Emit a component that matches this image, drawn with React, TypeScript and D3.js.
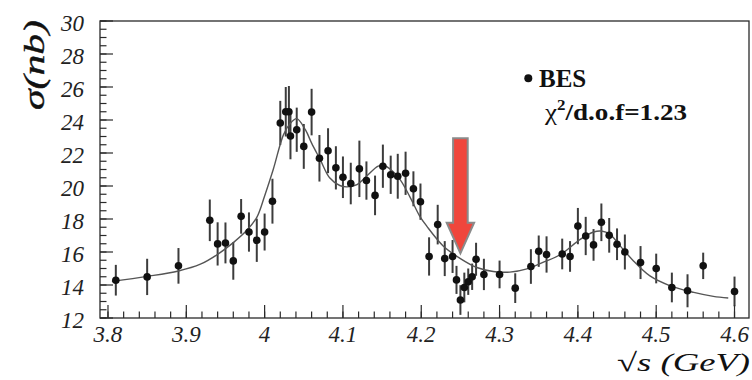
import React from "react";
import * as d3 from "d3";

// Measured cross section: centre-of-mass energy (GeV), sigma (nb), stat. error (nb)
const energy = [
  3.81, 3.85, 3.89, 3.93, 3.94, 3.95, 3.96, 3.97, 3.98, 3.99,
  4.0, 4.01, 4.02, 4.027, 4.031, 4.033, 4.041, 4.05, 4.06, 4.07,
  4.081, 4.091, 4.1, 4.11, 4.121, 4.13, 4.141, 4.151, 4.161, 4.17,
  4.18, 4.19, 4.199, 4.21, 4.221, 4.23, 4.24, 4.245, 4.25, 4.255,
  4.26, 4.265, 4.27, 4.28, 4.3, 4.32, 4.34, 4.35, 4.36, 4.38,
  4.39, 4.4, 4.41, 4.42, 4.43, 4.44, 4.45, 4.46, 4.48, 4.5,
  4.52, 4.54, 4.56, 4.6,
];
const sigma = [
  14.29, 14.49, 15.16, 17.92, 16.49, 16.55, 15.46, 18.16, 17.21, 16.71,
  17.21, 19.08, 23.82, 24.5, 24.5, 23.03, 23.41, 22.4, 24.48, 21.68,
  22.14, 21.1, 20.53, 20.15, 21.04, 20.33, 19.43, 21.2, 20.68, 20.59,
  20.77, 19.83, 19.05, 15.73, 17.66, 15.6, 15.73, 14.31, 13.09, 13.85,
  14.2, 14.5, 15.56, 14.64, 14.64, 13.81, 15.12, 16.05, 15.85, 15.88,
  15.73, 17.57, 16.97, 16.43, 17.8, 17.01, 16.47, 16.0, 15.36, 15.0,
  13.85, 13.65, 15.16, 13.61,
];
const sigmaErr = [
  0.93, 1.1, 1.08, 1.26, 1.31, 1.24, 1.14, 1.05, 1.19, 1.31,
  1.12, 1.36, 1.34, 1.5, 1.56, 1.41, 1.34, 1.36, 1.41, 1.41,
  1.36, 1.31, 1.26, 1.26, 1.71, 1.16, 1.2, 1.31, 1.16, 1.36,
  1.31, 1.06, 1.1, 1.16, 1.2, 1.06, 1.0, 0.85, 0.9, 0.9,
  0.8, 0.8, 1.0, 0.95, 0.84, 0.9, 1.05, 0.95, 1.1, 0.93,
  0.93, 1.1, 1.16, 0.96, 1.14, 1.05, 0.96, 1.06, 1.0, 0.9,
  0.9, 1.0, 0.8, 0.9,
];

// Fit curve sampled along the energy range
const fitEnergy = [
  3.805, 3.85, 3.89, 3.918, 3.94, 3.96, 3.977, 3.99, 4.0, 4.011,
  4.024, 4.032, 4.041, 4.052, 4.06, 4.071, 4.083, 4.096, 4.105, 4.118,
  4.13, 4.145, 4.152, 4.16, 4.173, 4.186, 4.198, 4.207, 4.228, 4.25,
  4.271, 4.292, 4.313, 4.335, 4.356, 4.378, 4.403, 4.42, 4.43, 4.441,
  4.454, 4.471, 4.492, 4.518, 4.548, 4.573, 4.592,
];
const fitSigma = [
  14.22, 14.52, 14.85, 15.26, 15.86, 16.57, 17.3, 18.1, 19.4, 21.0,
  23.1, 23.75, 24.08, 23.41, 22.6, 21.6, 20.5, 20.03, 19.95, 20.09,
  20.59, 21.2, 21.24, 21.04, 20.39, 19.3, 18.18, 17.57, 16.37, 15.6,
  15.06, 14.82, 14.78, 14.98, 15.38, 15.85, 16.77, 17.21, 17.27, 17.07,
  16.37, 15.46, 14.55, 13.95, 13.55, 13.31, 13.21,
];

// Axis ticks
const xTickValues = [3.8, 3.9, 4.0, 4.1, 4.2, 4.3, 4.4, 4.5, 4.6];
const xTickLabels = ["3.8", "3.9", "4", "4.1", "4.2", "4.3", "4.4", "4.5", "4.6"];
const yTickValues = [12, 14, 16, 18, 20, 22, 24, 26, 28, 30];
const yTickLabels = ["12", "14", "16", "18", "20", "22", "24", "26", "28", "30"];

// Marked energy and arrow extent (nb)
const arrowEnergy = 4.25;
const arrowFrom = 22.9;
const arrowTo = 15.92;

const W = 752;
const H = 380;
const left = 100;
const right = 749;
const top = 21;
const bottom = 318;

export default function App() {
  const x = d3.scaleLinear().domain([3.7898, 4.6185]).range([left, right]);
  const y = d3.scaleLinear().domain([12, 30]).range([bottom, top]);

  const xMinor = d3.range(0, 41).map((i) => 3.8 + i * 0.02).filter((v) => x(v) <= right);
  const yMinor = d3.range(0, 37).map((i) => 12 + i * 0.5);

  const fitLine = d3
    .line<number>()
    .x((_, i) => x(fitEnergy[i]))
    .y((d) => y(d))
    .curve(d3.curveCatmullRom.alpha(0.5));

  const serif = "Liberation Serif";
  const axisColor = "#2a2a2a";

  // arrow geometry
  const ax = x(arrowEnergy);
  const aTop = y(arrowFrom);
  const aTip = y(arrowTo);
  const shaftHalf = 7.3;
  const headHalf = 13.7;
  const headLen = 30.6;
  const arrowPts = [
    [ax - shaftHalf, aTop],
    [ax + shaftHalf, aTop],
    [ax + shaftHalf, aTip - headLen],
    [ax + headHalf, aTip - headLen],
    [ax, aTip],
    [ax - headHalf, aTip - headLen],
    [ax - shaftHalf, aTip - headLen],
  ]
    .map((p) => p.join(","))
    .join(" ");

  return (
    <svg
      width={W}
      height={H}
      style={{ position: "absolute", left: 0, top: 0, background: "#fff" }}
    >
      {/* error bars */}
      <g stroke="#3c3c3c" strokeWidth={2}>
        {energy.map((e, i) => (
          <line
            key={"e" + i}
            x1={x(e)}
            x2={x(e)}
            y1={y(sigma[i] - sigmaErr[i])}
            y2={y(sigma[i] + sigmaErr[i])}
          />
        ))}
      </g>

      {/* fit curve */}
      <path d={fitLine(fitSigma) || ""} fill="none" stroke="#555" strokeWidth={1.4} />

      {/* data points */}
      <g fill="#111">
        {energy.map((e, i) => (
          <circle key={"p" + i} cx={x(e)} cy={y(sigma[i])} r={3.8} />
        ))}
      </g>

      {/* frame */}
      <rect
        x={left}
        y={top}
        width={right - left}
        height={bottom - top}
        fill="none"
        stroke={axisColor}
        strokeWidth={1.3}
      />

      {/* x ticks */}
      <g stroke={axisColor} strokeWidth={1.2}>
        {xMinor.map((v, i) => (
          <line key={"xm" + i} x1={x(v)} x2={x(v)} y1={bottom} y2={bottom - 6.5} />
        ))}
        {xTickValues.map((v, i) => (
          <line key={"xM" + i} x1={x(v)} x2={x(v)} y1={bottom} y2={bottom - 13} />
        ))}
      </g>
      {/* y ticks */}
      <g stroke={axisColor} strokeWidth={1.2}>
        {yMinor.map((v, i) => (
          <line key={"ym" + i} x1={left} x2={left + 6.5} y1={y(v)} y2={y(v)} />
        ))}
        {yTickValues.map((v, i) => (
          <line key={"yM" + i} x1={left} x2={left + 13} y1={y(v)} y2={y(v)} />
        ))}
      </g>

      {/* tick labels */}
      <g fontFamily={serif} fontStyle="italic" fill="#222">
        {xTickValues.map((v, i) => (
          <text key={"xl" + i} x={x(v)} y={342} fontSize={23} textAnchor="middle">
            {xTickLabels[i]}
          </text>
        ))}
        {yTickValues.map((v, i) => (
          <text key={"yl" + i} x={84} y={y(v) + 10} fontSize={23} textAnchor="end">
            {yTickLabels[i]}
          </text>
        ))}
      </g>

      {/* axis titles */}
      <text
        transform="translate(44,20) rotate(-90)"
        fontFamily={serif}
        fontStyle="italic"
        fontSize={29}
        fill="#111"
        stroke="#111"
        strokeWidth={0.4}
        textAnchor="end"
        textLength={90}
        lengthAdjust="spacingAndGlyphs"
      >
        σ(nb)
      </text>
      <text
        x={750}
        y={371}
        fontFamily={serif}
        fontSize={26}
        fill="#111"
        textAnchor="end"
        textLength={133}
        lengthAdjust="spacingAndGlyphs"
      >
        √<tspan fontStyle="italic">s (GeV)</tspan>
      </text>

      {/* legend */}
      <circle cx={528.3} cy={78.3} r={4} fill="#111" />
      <text x={539} y={87} fontFamily={serif} fontWeight="bold" fontSize={25} fill="#111">
        BES
      </text>
      <text
        x={545}
        y={120}
        fontFamily={serif}
        fontWeight="bold"
        fontSize={24}
        fill="#111"
        textLength={142}
        lengthAdjust="spacingAndGlyphs"
      >
        <tspan fontWeight="normal">χ</tspan>
        <tspan fontSize={15} dy={-10}>2</tspan>
        <tspan dy={10}>/d.o.f=1.23</tspan>
      </text>

      {/* arrow */}
      <polygon points={arrowPts} fill="#f0463c" stroke="#8a8a8a" strokeWidth={2} />
    </svg>
  );
}
